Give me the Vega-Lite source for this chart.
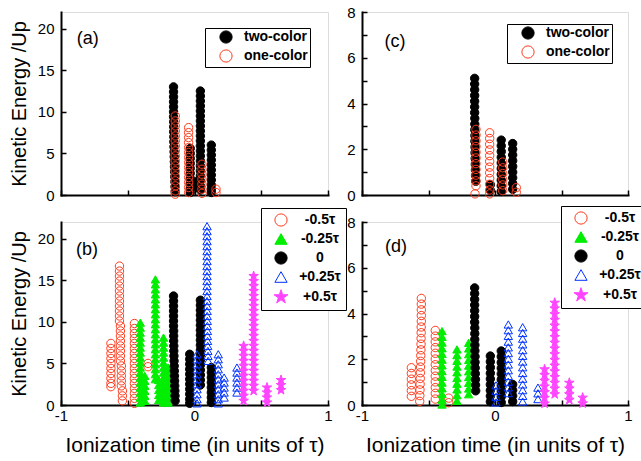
{
"$schema":"https://vega.github.io/schema/vega-lite/v6.json",
"padding":{"left":8,"top":4,"right":0,"bottom":0},
"background":"white",
"datasets":{
"a":[
{"s":"two-color","x":-0.157,"y":13},{"s":"two-color","x":-0.157,"y":12.4},{"s":"two-color","x":-0.157,"y":11.8},{"s":"two-color","x":-0.157,"y":11.2},{"s":"two-color","x":-0.157,"y":10.6},{"s":"two-color","x":-0.157,"y":10},{"s":"two-color","x":-0.157,"y":9.4},{"s":"two-color","x":-0.156,"y":8.8},{"s":"two-color","x":-0.156,"y":8.2},{"s":"two-color","x":-0.156,"y":7.6},{"s":"two-color","x":-0.155,"y":7},{"s":"two-color","x":-0.155,"y":6.4},{"s":"two-color","x":-0.154,"y":5.8},{"s":"two-color","x":-0.153,"y":5.2},{"s":"two-color","x":-0.152,"y":4.6},{"s":"two-color","x":-0.151,"y":4},{"s":"two-color","x":-0.15,"y":3.4},{"s":"two-color","x":-0.149,"y":2.8},{"s":"two-color","x":-0.148,"y":2.2},{"s":"two-color","x":-0.147,"y":1.6},{"s":"two-color","x":-0.146,"y":1},{"s":"two-color","x":-0.145,"y":0.4},
{"s":"two-color","x":0.044,"y":12.5},{"s":"two-color","x":0.044,"y":11.9},{"s":"two-color","x":0.044,"y":11.3},{"s":"two-color","x":0.044,"y":10.7},{"s":"two-color","x":0.044,"y":10.1},{"s":"two-color","x":0.044,"y":9.5},{"s":"two-color","x":0.044,"y":8.9},{"s":"two-color","x":0.044,"y":8.3},{"s":"two-color","x":0.044,"y":7.7},{"s":"two-color","x":0.044,"y":7.1},{"s":"two-color","x":0.044,"y":6.5},{"s":"two-color","x":0.044,"y":5.9},{"s":"two-color","x":0.044,"y":5.3},{"s":"two-color","x":0.044,"y":4.7},{"s":"two-color","x":0.044,"y":4.1},{"s":"two-color","x":0.044,"y":3.5},{"s":"two-color","x":0.044,"y":2.9},{"s":"two-color","x":0.044,"y":2.3},{"s":"two-color","x":0.044,"y":1.7},{"s":"two-color","x":0.044,"y":1.1},{"s":"two-color","x":0.044,"y":0.6},
{"s":"two-color","x":0.126,"y":6},{"s":"two-color","x":0.126,"y":5.4},{"s":"two-color","x":0.126,"y":4.8},{"s":"two-color","x":0.126,"y":4.2},{"s":"two-color","x":0.126,"y":3.6},{"s":"two-color","x":0.126,"y":3},{"s":"two-color","x":0.126,"y":2.4},{"s":"two-color","x":0.126,"y":1.8},{"s":"two-color","x":0.126,"y":1.2},{"s":"two-color","x":0.126,"y":0.7},{"s":"two-color","x":0.126,"y":0.3},
{"s":"two-color","x":-0.032,"y":5.6},{"s":"two-color","x":-0.032,"y":5},{"s":"two-color","x":-0.032,"y":4.4},{"s":"two-color","x":-0.032,"y":3.8},{"s":"two-color","x":-0.032,"y":3.2},{"s":"two-color","x":-0.032,"y":2.6},{"s":"two-color","x":-0.032,"y":2},{"s":"two-color","x":-0.032,"y":1.4},{"s":"two-color","x":-0.032,"y":0.8},{"s":"two-color","x":-0.032,"y":0.3},
{"s":"two-color","x":0.015,"y":1.6},{"s":"two-color","x":0.015,"y":1},
{"s":"one-color","x":-0.144,"y":9.5},{"s":"one-color","x":-0.144,"y":8.9},{"s":"one-color","x":-0.144,"y":8.3},{"s":"one-color","x":-0.144,"y":7.7},{"s":"one-color","x":-0.144,"y":7.1},{"s":"one-color","x":-0.144,"y":6.5},{"s":"one-color","x":-0.144,"y":5.9},{"s":"one-color","x":-0.144,"y":5.3},{"s":"one-color","x":-0.144,"y":4.7},{"s":"one-color","x":-0.144,"y":4.1},{"s":"one-color","x":-0.144,"y":3.5},{"s":"one-color","x":-0.144,"y":2.9},{"s":"one-color","x":-0.144,"y":2.3},{"s":"one-color","x":-0.144,"y":1.7},{"s":"one-color","x":-0.144,"y":1.1},{"s":"one-color","x":-0.144,"y":0.5},{"s":"one-color","x":-0.144,"y":0.1},
{"s":"one-color","x":-0.044,"y":8.1},{"s":"one-color","x":-0.044,"y":7.5},{"s":"one-color","x":-0.044,"y":6.9},{"s":"one-color","x":-0.044,"y":6.3},{"s":"one-color","x":-0.044,"y":5.7},{"s":"one-color","x":-0.044,"y":5.1},{"s":"one-color","x":-0.044,"y":4.5},{"s":"one-color","x":-0.044,"y":3.9},{"s":"one-color","x":-0.044,"y":3.3},{"s":"one-color","x":-0.044,"y":2.7},{"s":"one-color","x":-0.044,"y":2.1},{"s":"one-color","x":-0.044,"y":1.5},{"s":"one-color","x":-0.044,"y":0.9},{"s":"one-color","x":-0.044,"y":0.3},
{"s":"one-color","x":0.056,"y":3.7},{"s":"one-color","x":0.056,"y":3.1},{"s":"one-color","x":0.056,"y":2.5},{"s":"one-color","x":0.056,"y":1.9},{"s":"one-color","x":0.056,"y":1.3},{"s":"one-color","x":0.056,"y":0.7},{"s":"one-color","x":0.056,"y":0.2},
{"s":"one-color","x":0.161,"y":0.7},{"s":"one-color","x":0.161,"y":0.3}
],
"c":[
{"s":"two-color","x":-0.153,"y":5.1},{"s":"two-color","x":-0.153,"y":4.85},{"s":"two-color","x":-0.153,"y":4.6},{"s":"two-color","x":-0.153,"y":4.35},{"s":"two-color","x":-0.153,"y":4.1},{"s":"two-color","x":-0.153,"y":3.85},{"s":"two-color","x":-0.153,"y":3.6},{"s":"two-color","x":-0.152,"y":3.35},{"s":"two-color","x":-0.152,"y":3.1},{"s":"two-color","x":-0.152,"y":2.85},{"s":"two-color","x":-0.151,"y":2.6},{"s":"two-color","x":-0.151,"y":2.35},{"s":"two-color","x":-0.15,"y":2.1},{"s":"two-color","x":-0.15,"y":1.85},{"s":"two-color","x":-0.149,"y":1.6},{"s":"two-color","x":-0.148,"y":1.35},{"s":"two-color","x":-0.147,"y":1.1},{"s":"two-color","x":-0.146,"y":0.85},{"s":"two-color","x":-0.145,"y":0.6},
{"s":"two-color","x":0.047,"y":2.4},{"s":"two-color","x":0.047,"y":2.15},{"s":"two-color","x":0.047,"y":1.9},{"s":"two-color","x":0.047,"y":1.65},{"s":"two-color","x":0.047,"y":1.4},{"s":"two-color","x":0.047,"y":1.15},{"s":"two-color","x":0.047,"y":0.9},{"s":"two-color","x":0.047,"y":0.65},{"s":"two-color","x":0.047,"y":0.4},{"s":"two-color","x":0.047,"y":0.15},
{"s":"two-color","x":0.133,"y":2.25},{"s":"two-color","x":0.133,"y":2},{"s":"two-color","x":0.133,"y":1.75},{"s":"two-color","x":0.133,"y":1.5},{"s":"two-color","x":0.133,"y":1.25},{"s":"two-color","x":0.133,"y":1},{"s":"two-color","x":0.133,"y":0.75},{"s":"two-color","x":0.133,"y":0.5},{"s":"two-color","x":0.133,"y":0.25},
{"s":"two-color","x":-0.035,"y":0.45},{"s":"two-color","x":-0.035,"y":0.2},
{"s":"one-color","x":-0.143,"y":2.87},{"s":"one-color","x":-0.143,"y":2.62},{"s":"one-color","x":-0.143,"y":2.37},{"s":"one-color","x":-0.143,"y":2.12},{"s":"one-color","x":-0.143,"y":1.87},{"s":"one-color","x":-0.143,"y":1.62},{"s":"one-color","x":-0.143,"y":1.37},{"s":"one-color","x":-0.143,"y":1.12},{"s":"one-color","x":-0.143,"y":0.87},{"s":"one-color","x":-0.143,"y":0.62},{"s":"one-color","x":-0.143,"y":0.4},{"s":"one-color","x":-0.15,"y":0.05},
{"s":"one-color","x":-0.04,"y":2.72},{"s":"one-color","x":-0.04,"y":2.47},{"s":"one-color","x":-0.04,"y":2.22},{"s":"one-color","x":-0.04,"y":1.97},{"s":"one-color","x":-0.04,"y":1.72},{"s":"one-color","x":-0.04,"y":1.47},{"s":"one-color","x":-0.04,"y":1.22},{"s":"one-color","x":-0.04,"y":0.97},{"s":"one-color","x":-0.04,"y":0.72},{"s":"one-color","x":-0.04,"y":0.47},{"s":"one-color","x":-0.04,"y":0.22},{"s":"one-color","x":-0.04,"y":0.05},
{"s":"one-color","x":0.058,"y":1.44},{"s":"one-color","x":0.058,"y":1.19},{"s":"one-color","x":0.058,"y":0.94},{"s":"one-color","x":0.058,"y":0.69},{"s":"one-color","x":0.058,"y":0.44},{"s":"one-color","x":0.058,"y":0.19},
{"s":"one-color","x":0.16,"y":0.32},{"s":"one-color","x":0.16,"y":0.12}
],
"b":[
{"s":"-0.5τ","x":-0.626,"y":7.4},{"s":"-0.5τ","x":-0.626,"y":6.8},{"s":"-0.5τ","x":-0.626,"y":6.2},{"s":"-0.5τ","x":-0.626,"y":5.6},{"s":"-0.5τ","x":-0.626,"y":5},{"s":"-0.5τ","x":-0.626,"y":4.4},{"s":"-0.5τ","x":-0.626,"y":3.8},{"s":"-0.5τ","x":-0.626,"y":3.2},{"s":"-0.5τ","x":-0.626,"y":2.6},{"s":"-0.5τ","x":-0.626,"y":2.2},
{"s":"-0.5τ","x":-0.562,"y":16.7},{"s":"-0.5τ","x":-0.562,"y":16.1},{"s":"-0.5τ","x":-0.562,"y":15.5},{"s":"-0.5τ","x":-0.562,"y":14.9},{"s":"-0.5τ","x":-0.562,"y":14.3},{"s":"-0.5τ","x":-0.562,"y":13.7},{"s":"-0.5τ","x":-0.562,"y":13.1},{"s":"-0.5τ","x":-0.562,"y":12.5},{"s":"-0.5τ","x":-0.562,"y":11.9},{"s":"-0.5τ","x":-0.562,"y":11.3},{"s":"-0.5τ","x":-0.562,"y":10.7},{"s":"-0.5τ","x":-0.562,"y":10.1},
{"s":"-0.5τ","x":-0.555,"y":9.5},{"s":"-0.5τ","x":-0.555,"y":8.9},{"s":"-0.5τ","x":-0.555,"y":8.3},{"s":"-0.5τ","x":-0.555,"y":7.7},{"s":"-0.5τ","x":-0.555,"y":7.1},{"s":"-0.5τ","x":-0.555,"y":6.5},{"s":"-0.5τ","x":-0.555,"y":5.9},{"s":"-0.5τ","x":-0.555,"y":5.3},
{"s":"-0.5τ","x":-0.548,"y":4.7},{"s":"-0.5τ","x":-0.548,"y":4.1},{"s":"-0.5τ","x":-0.548,"y":3.5},{"s":"-0.5τ","x":-0.548,"y":2.9},{"s":"-0.5τ","x":-0.548,"y":2.3},
{"s":"-0.5τ","x":-0.54,"y":1.7},{"s":"-0.5τ","x":-0.54,"y":1.1},{"s":"-0.5τ","x":-0.54,"y":0.5},
{"s":"-0.5τ","x":-0.45,"y":9.8},{"s":"-0.5τ","x":-0.45,"y":9.2},{"s":"-0.5τ","x":-0.45,"y":8.6},{"s":"-0.5τ","x":-0.45,"y":8},{"s":"-0.5τ","x":-0.45,"y":7.4},{"s":"-0.5τ","x":-0.45,"y":6.8},{"s":"-0.5τ","x":-0.45,"y":6.2},{"s":"-0.5τ","x":-0.45,"y":5.6},{"s":"-0.5τ","x":-0.45,"y":5},{"s":"-0.5τ","x":-0.45,"y":4.4},{"s":"-0.5τ","x":-0.45,"y":3.8},{"s":"-0.5τ","x":-0.45,"y":3.2},{"s":"-0.5τ","x":-0.45,"y":2.6},{"s":"-0.5τ","x":-0.45,"y":2},{"s":"-0.5τ","x":-0.45,"y":1.4},{"s":"-0.5τ","x":-0.45,"y":0.8},{"s":"-0.5τ","x":-0.45,"y":0.2},
{"s":"-0.5τ","x":-0.348,"y":5},{"s":"-0.5τ","x":-0.348,"y":4.6},
{"s":"-0.25τ","x":-0.406,"y":9.9},{"s":"-0.25τ","x":-0.406,"y":9.3},{"s":"-0.25τ","x":-0.406,"y":8.7},{"s":"-0.25τ","x":-0.406,"y":8.1},{"s":"-0.25τ","x":-0.406,"y":7.5},{"s":"-0.25τ","x":-0.406,"y":6.9},{"s":"-0.25τ","x":-0.406,"y":6.3},{"s":"-0.25τ","x":-0.406,"y":5.7},{"s":"-0.25τ","x":-0.406,"y":5.1},{"s":"-0.25τ","x":-0.406,"y":4.5},{"s":"-0.25τ","x":-0.406,"y":3.9},{"s":"-0.25τ","x":-0.406,"y":3.3},{"s":"-0.25τ","x":-0.406,"y":2.7},{"s":"-0.25τ","x":-0.406,"y":2.1},{"s":"-0.25τ","x":-0.406,"y":1.5},{"s":"-0.25τ","x":-0.406,"y":0.9},{"s":"-0.25τ","x":-0.406,"y":0.3},
{"s":"-0.25τ","x":-0.372,"y":3.5},{"s":"-0.25τ","x":-0.372,"y":2.9},{"s":"-0.25τ","x":-0.372,"y":2.3},{"s":"-0.25τ","x":-0.372,"y":1.7},{"s":"-0.25τ","x":-0.372,"y":1.1},{"s":"-0.25τ","x":-0.372,"y":0.5},
{"s":"-0.25τ","x":-0.293,"y":15.1},{"s":"-0.25τ","x":-0.293,"y":14.5},{"s":"-0.25τ","x":-0.293,"y":13.9},{"s":"-0.25τ","x":-0.293,"y":13.3},{"s":"-0.25τ","x":-0.293,"y":12.7},{"s":"-0.25τ","x":-0.293,"y":12.1},{"s":"-0.25τ","x":-0.293,"y":11.5},{"s":"-0.25τ","x":-0.293,"y":10.9},{"s":"-0.25τ","x":-0.293,"y":10.3},{"s":"-0.25τ","x":-0.293,"y":9.7},{"s":"-0.25τ","x":-0.293,"y":9.1},{"s":"-0.25τ","x":-0.293,"y":8.5},{"s":"-0.25τ","x":-0.293,"y":7.9},{"s":"-0.25τ","x":-0.293,"y":7.3},{"s":"-0.25τ","x":-0.293,"y":6.7},{"s":"-0.25τ","x":-0.293,"y":6.1},{"s":"-0.25τ","x":-0.293,"y":5.5},{"s":"-0.25τ","x":-0.293,"y":4.9},{"s":"-0.25τ","x":-0.293,"y":4.3},{"s":"-0.25τ","x":-0.293,"y":3.7},{"s":"-0.25τ","x":-0.293,"y":3.1},
{"s":"-0.25τ","x":-0.268,"y":3},{"s":"-0.25τ","x":-0.268,"y":2.4},{"s":"-0.25τ","x":-0.268,"y":1.8},{"s":"-0.25τ","x":-0.268,"y":1.2},{"s":"-0.25τ","x":-0.268,"y":0.6},
{"s":"-0.25τ","x":-0.232,"y":8.1},{"s":"-0.25τ","x":-0.232,"y":7.5},{"s":"-0.25τ","x":-0.232,"y":6.9},{"s":"-0.25τ","x":-0.232,"y":6.3},{"s":"-0.25τ","x":-0.232,"y":5.7},{"s":"-0.25τ","x":-0.232,"y":5.1},{"s":"-0.25τ","x":-0.232,"y":4.5},{"s":"-0.25τ","x":-0.232,"y":3.9},{"s":"-0.25τ","x":-0.232,"y":3.3},{"s":"-0.25τ","x":-0.232,"y":2.7},{"s":"-0.25τ","x":-0.232,"y":2.1},{"s":"-0.25τ","x":-0.232,"y":1.5},{"s":"-0.25τ","x":-0.232,"y":0.9},{"s":"-0.25τ","x":-0.232,"y":0.3},
{"s":"-0.25τ","x":-0.198,"y":4.5},{"s":"-0.25τ","x":-0.198,"y":3.9},{"s":"-0.25τ","x":-0.198,"y":3.3},{"s":"-0.25τ","x":-0.198,"y":2.7},{"s":"-0.25τ","x":-0.198,"y":2.1},{"s":"-0.25τ","x":-0.198,"y":1.5},{"s":"-0.25τ","x":-0.198,"y":0.9},{"s":"-0.25τ","x":-0.198,"y":0.3},
{"s":"0","x":-0.157,"y":13.1},{"s":"0","x":-0.157,"y":12.5},{"s":"0","x":-0.157,"y":11.9},{"s":"0","x":-0.157,"y":11.3},{"s":"0","x":-0.157,"y":10.7},{"s":"0","x":-0.157,"y":10.1},{"s":"0","x":-0.157,"y":9.5},{"s":"0","x":-0.156,"y":8.9},{"s":"0","x":-0.156,"y":8.3},{"s":"0","x":-0.156,"y":7.7},{"s":"0","x":-0.155,"y":7.1},{"s":"0","x":-0.155,"y":6.5},{"s":"0","x":-0.154,"y":5.9},{"s":"0","x":-0.153,"y":5.3},{"s":"0","x":-0.152,"y":4.7},{"s":"0","x":-0.151,"y":4.1},{"s":"0","x":-0.15,"y":3.5},{"s":"0","x":-0.149,"y":2.9},{"s":"0","x":-0.148,"y":2.3},{"s":"0","x":-0.147,"y":1.7},{"s":"0","x":-0.146,"y":1.1},{"s":"0","x":-0.145,"y":0.5},
{"s":"0","x":-0.036,"y":6.1},{"s":"0","x":-0.036,"y":5.5},{"s":"0","x":-0.036,"y":4.9},{"s":"0","x":-0.036,"y":4.3},{"s":"0","x":-0.036,"y":3.7},{"s":"0","x":-0.036,"y":3.1},{"s":"0","x":-0.036,"y":2.5},{"s":"0","x":-0.036,"y":1.9},{"s":"0","x":-0.036,"y":1.3},{"s":"0","x":-0.036,"y":0.7},{"s":"0","x":-0.036,"y":0.2},
{"s":"0","x":0.044,"y":12.6},{"s":"0","x":0.044,"y":12},{"s":"0","x":0.044,"y":11.4},{"s":"0","x":0.044,"y":10.8},{"s":"0","x":0.044,"y":10.2},{"s":"0","x":0.044,"y":9.6},{"s":"0","x":0.044,"y":9},{"s":"0","x":0.044,"y":8.4},{"s":"0","x":0.044,"y":7.8},{"s":"0","x":0.044,"y":7.2},{"s":"0","x":0.044,"y":6.6},{"s":"0","x":0.044,"y":6},{"s":"0","x":0.044,"y":5.4},{"s":"0","x":0.044,"y":4.8},{"s":"0","x":0.044,"y":4.2},{"s":"0","x":0.044,"y":3.6},{"s":"0","x":0.044,"y":3},{"s":"0","x":0.044,"y":2.4},
{"s":"0","x":0.126,"y":4.5},{"s":"0","x":0.126,"y":3.9},{"s":"0","x":0.126,"y":3.3},{"s":"0","x":0.126,"y":2.7},{"s":"0","x":0.126,"y":2.1},{"s":"0","x":0.126,"y":1.5},{"s":"0","x":0.126,"y":0.9},{"s":"0","x":0.126,"y":0.3},
{"s":"+0.25τ","x":0.019,"y":6.1},{"s":"+0.25τ","x":0.019,"y":5.5},{"s":"+0.25τ","x":0.019,"y":4.9},{"s":"+0.25τ","x":0.019,"y":4.3},{"s":"+0.25τ","x":0.019,"y":3.7},{"s":"+0.25τ","x":0.019,"y":3.1},{"s":"+0.25τ","x":0.019,"y":2.5},{"s":"+0.25τ","x":0.019,"y":1.9},{"s":"+0.25τ","x":0.019,"y":1.3},{"s":"+0.25τ","x":0.019,"y":0.7},{"s":"+0.25τ","x":0.019,"y":0.2},
{"s":"+0.25τ","x":0.094,"y":21.5},{"s":"+0.25τ","x":0.094,"y":20.9},{"s":"+0.25τ","x":0.094,"y":20.3},{"s":"+0.25τ","x":0.094,"y":19.7},{"s":"+0.25τ","x":0.094,"y":19.1},{"s":"+0.25τ","x":0.094,"y":18.5},{"s":"+0.25τ","x":0.094,"y":17.9},{"s":"+0.25τ","x":0.094,"y":17.3},{"s":"+0.25τ","x":0.094,"y":16.7},{"s":"+0.25τ","x":0.094,"y":16.1},{"s":"+0.25τ","x":0.094,"y":15.5},{"s":"+0.25τ","x":0.094,"y":14.9},{"s":"+0.25τ","x":0.094,"y":14.3},{"s":"+0.25τ","x":0.094,"y":13.7},{"s":"+0.25τ","x":0.094,"y":13.1},{"s":"+0.25τ","x":0.094,"y":12.5},{"s":"+0.25τ","x":0.095,"y":11.9},{"s":"+0.25τ","x":0.095,"y":11.3},{"s":"+0.25τ","x":0.095,"y":10.7},{"s":"+0.25τ","x":0.096,"y":10.1},{"s":"+0.25τ","x":0.096,"y":9.5},{"s":"+0.25τ","x":0.097,"y":8.9},{"s":"+0.25τ","x":0.097,"y":8.3},{"s":"+0.25τ","x":0.098,"y":7.7},{"s":"+0.25τ","x":0.099,"y":7.1},{"s":"+0.25τ","x":0.1,"y":6.5},{"s":"+0.25τ","x":0.101,"y":5.9},{"s":"+0.25τ","x":0.102,"y":5.3},
{"s":"+0.25τ","x":0.178,"y":6.1},{"s":"+0.25τ","x":0.178,"y":5.5},{"s":"+0.25τ","x":0.178,"y":4.9},{"s":"+0.25τ","x":0.178,"y":4.3},{"s":"+0.25τ","x":0.178,"y":3.7},{"s":"+0.25τ","x":0.178,"y":3.1},{"s":"+0.25τ","x":0.178,"y":2.5},{"s":"+0.25τ","x":0.178,"y":1.9},{"s":"+0.25τ","x":0.178,"y":1.3},{"s":"+0.25τ","x":0.178,"y":0.7},{"s":"+0.25τ","x":0.178,"y":0.2},
{"s":"+0.25τ","x":0.222,"y":3.3},{"s":"+0.25τ","x":0.222,"y":2.7},{"s":"+0.25τ","x":0.222,"y":2.1},{"s":"+0.25τ","x":0.222,"y":1.5},{"s":"+0.25τ","x":0.222,"y":0.9},
{"s":"+0.25τ","x":0.318,"y":4.5},{"s":"+0.25τ","x":0.318,"y":3.9},{"s":"+0.25τ","x":0.318,"y":3.3},{"s":"+0.25τ","x":0.318,"y":2.7},{"s":"+0.25τ","x":0.318,"y":2.1},{"s":"+0.25τ","x":0.318,"y":1.5},
{"s":"+0.5τ","x":0.368,"y":7.1},{"s":"+0.5τ","x":0.368,"y":6.5},{"s":"+0.5τ","x":0.368,"y":5.9},{"s":"+0.5τ","x":0.368,"y":5.3},{"s":"+0.5τ","x":0.368,"y":4.7},{"s":"+0.5τ","x":0.368,"y":4.1},{"s":"+0.5τ","x":0.368,"y":3.5},{"s":"+0.5τ","x":0.368,"y":2.9},{"s":"+0.5τ","x":0.368,"y":2.3},{"s":"+0.5τ","x":0.368,"y":1.7},{"s":"+0.5τ","x":0.368,"y":1.1},{"s":"+0.5τ","x":0.368,"y":0.5},
{"s":"+0.5τ","x":0.443,"y":15.5},{"s":"+0.5τ","x":0.443,"y":14.9},{"s":"+0.5τ","x":0.443,"y":14.3},{"s":"+0.5τ","x":0.443,"y":13.7},{"s":"+0.5τ","x":0.443,"y":13.1},{"s":"+0.5τ","x":0.443,"y":12.5},{"s":"+0.5τ","x":0.443,"y":11.9},{"s":"+0.5τ","x":0.443,"y":11.3},{"s":"+0.5τ","x":0.443,"y":10.7},{"s":"+0.5τ","x":0.443,"y":10.1},{"s":"+0.5τ","x":0.443,"y":9.5},{"s":"+0.5τ","x":0.443,"y":8.9},{"s":"+0.5τ","x":0.443,"y":8.3},{"s":"+0.5τ","x":0.443,"y":7.7},{"s":"+0.5τ","x":0.443,"y":7.1},{"s":"+0.5τ","x":0.443,"y":6.5},{"s":"+0.5τ","x":0.443,"y":5.9},{"s":"+0.5τ","x":0.443,"y":5.3},{"s":"+0.5τ","x":0.443,"y":4.7},{"s":"+0.5τ","x":0.443,"y":4.1},{"s":"+0.5τ","x":0.443,"y":3.5},{"s":"+0.5τ","x":0.443,"y":2.9},{"s":"+0.5τ","x":0.443,"y":2.3},{"s":"+0.5τ","x":0.443,"y":1.7},
{"s":"+0.5τ","x":0.543,"y":2.1},{"s":"+0.5τ","x":0.543,"y":1.5},{"s":"+0.5τ","x":0.543,"y":0.9},{"s":"+0.5τ","x":0.543,"y":0.3},
{"s":"+0.5τ","x":0.648,"y":3},{"s":"+0.5τ","x":0.648,"y":2.4},{"s":"+0.5τ","x":0.648,"y":1.8}
],
"d":[
{"s":"-0.5τ","x":-0.629,"y":1.63},{"s":"-0.5τ","x":-0.629,"y":1.38},{"s":"-0.5τ","x":-0.629,"y":1.13},{"s":"-0.5τ","x":-0.629,"y":0.88},{"s":"-0.5τ","x":-0.629,"y":0.63},{"s":"-0.5τ","x":-0.629,"y":0.38},
{"s":"-0.5τ","x":-0.554,"y":4.66},{"s":"-0.5τ","x":-0.554,"y":4.41},{"s":"-0.5τ","x":-0.554,"y":4.16},{"s":"-0.5τ","x":-0.554,"y":3.91},{"s":"-0.5τ","x":-0.554,"y":3.66},{"s":"-0.5τ","x":-0.555,"y":3.41},{"s":"-0.5τ","x":-0.555,"y":3.16},{"s":"-0.5τ","x":-0.556,"y":2.91},{"s":"-0.5τ","x":-0.556,"y":2.66},{"s":"-0.5τ","x":-0.557,"y":2.41},{"s":"-0.5τ","x":-0.558,"y":2.16},{"s":"-0.5τ","x":-0.559,"y":1.91},{"s":"-0.5τ","x":-0.56,"y":1.66},{"s":"-0.5τ","x":-0.561,"y":1.41},{"s":"-0.5τ","x":-0.562,"y":1.16},{"s":"-0.5τ","x":-0.563,"y":0.91},{"s":"-0.5τ","x":-0.564,"y":0.66},{"s":"-0.5τ","x":-0.565,"y":0.41},{"s":"-0.5τ","x":-0.566,"y":0.16},
{"s":"-0.5τ","x":-0.449,"y":3.26},{"s":"-0.5τ","x":-0.449,"y":3.01},{"s":"-0.5τ","x":-0.449,"y":2.76},{"s":"-0.5τ","x":-0.449,"y":2.51},{"s":"-0.5τ","x":-0.449,"y":2.26},{"s":"-0.5τ","x":-0.449,"y":2.01},{"s":"-0.5τ","x":-0.449,"y":1.76},{"s":"-0.5τ","x":-0.449,"y":1.51},{"s":"-0.5τ","x":-0.449,"y":1.26},{"s":"-0.5τ","x":-0.449,"y":1.01},{"s":"-0.5τ","x":-0.449,"y":0.76},{"s":"-0.5τ","x":-0.449,"y":0.51},{"s":"-0.5τ","x":-0.449,"y":0.26},
{"s":"-0.5τ","x":-0.348,"y":0.3},{"s":"-0.5τ","x":-0.348,"y":0.1},
{"s":"-0.25τ","x":-0.398,"y":3.23},{"s":"-0.25τ","x":-0.398,"y":2.98},{"s":"-0.25τ","x":-0.398,"y":2.73},{"s":"-0.25τ","x":-0.398,"y":2.48},{"s":"-0.25τ","x":-0.398,"y":2.23},{"s":"-0.25τ","x":-0.398,"y":1.98},{"s":"-0.25τ","x":-0.398,"y":1.73},{"s":"-0.25τ","x":-0.398,"y":1.48},{"s":"-0.25τ","x":-0.398,"y":1.23},{"s":"-0.25τ","x":-0.398,"y":0.98},{"s":"-0.25τ","x":-0.398,"y":0.73},{"s":"-0.25τ","x":-0.398,"y":0.48},{"s":"-0.25τ","x":-0.398,"y":0.23},{"s":"-0.25τ","x":-0.398,"y":0.02},
{"s":"-0.25τ","x":-0.286,"y":2.43},{"s":"-0.25τ","x":-0.286,"y":2.18},{"s":"-0.25τ","x":-0.286,"y":1.93},{"s":"-0.25τ","x":-0.286,"y":1.68},{"s":"-0.25τ","x":-0.286,"y":1.43},{"s":"-0.25τ","x":-0.286,"y":1.18},{"s":"-0.25τ","x":-0.286,"y":0.93},{"s":"-0.25τ","x":-0.286,"y":0.68},{"s":"-0.25τ","x":-0.286,"y":0.43},{"s":"-0.25τ","x":-0.286,"y":0.18},
{"s":"-0.25τ","x":-0.198,"y":2.72},{"s":"-0.25τ","x":-0.198,"y":2.47},{"s":"-0.25τ","x":-0.198,"y":2.22},{"s":"-0.25τ","x":-0.198,"y":1.97},{"s":"-0.25τ","x":-0.198,"y":1.72},{"s":"-0.25τ","x":-0.198,"y":1.47},{"s":"-0.25τ","x":-0.198,"y":1.22},{"s":"-0.25τ","x":-0.198,"y":0.97},{"s":"-0.25τ","x":-0.198,"y":0.72},{"s":"-0.25τ","x":-0.198,"y":0.47},
{"s":"0","x":-0.153,"y":5.12},{"s":"0","x":-0.153,"y":4.87},{"s":"0","x":-0.153,"y":4.62},{"s":"0","x":-0.153,"y":4.37},{"s":"0","x":-0.153,"y":4.12},{"s":"0","x":-0.153,"y":3.87},{"s":"0","x":-0.153,"y":3.62},{"s":"0","x":-0.152,"y":3.37},{"s":"0","x":-0.152,"y":3.12},{"s":"0","x":-0.152,"y":2.87},{"s":"0","x":-0.151,"y":2.62},{"s":"0","x":-0.151,"y":2.37},{"s":"0","x":-0.15,"y":2.12},{"s":"0","x":-0.15,"y":1.87},{"s":"0","x":-0.149,"y":1.62},{"s":"0","x":-0.148,"y":1.37},{"s":"0","x":-0.147,"y":1.12},{"s":"0","x":-0.146,"y":0.87},{"s":"0","x":-0.145,"y":0.62},
{"s":"0","x":-0.035,"y":2.14},{"s":"0","x":-0.035,"y":1.89},{"s":"0","x":-0.035,"y":1.64},{"s":"0","x":-0.035,"y":1.39},{"s":"0","x":-0.035,"y":1.14},{"s":"0","x":-0.035,"y":0.89},{"s":"0","x":-0.035,"y":0.64},{"s":"0","x":-0.035,"y":0.39},{"s":"0","x":-0.035,"y":0.14},
{"s":"0","x":0.047,"y":2.36},{"s":"0","x":0.047,"y":2.11},{"s":"0","x":0.047,"y":1.86},{"s":"0","x":0.047,"y":1.61},{"s":"0","x":0.047,"y":1.36},{"s":"0","x":0.047,"y":1.11},{"s":"0","x":0.047,"y":0.86},{"s":"0","x":0.047,"y":0.61},{"s":"0","x":0.047,"y":0.36},{"s":"0","x":0.047,"y":0.11},
{"s":"0","x":0.133,"y":0.9},{"s":"0","x":0.133,"y":0.65},{"s":"0","x":0.133,"y":0.4},{"s":"0","x":0.133,"y":0.15},
{"s":"+0.25τ","x":0.008,"y":0.86},{"s":"+0.25τ","x":0.008,"y":0.61},{"s":"+0.25τ","x":0.008,"y":0.36},{"s":"+0.25τ","x":0.008,"y":0.11},
{"s":"+0.25τ","x":0.1,"y":3.52},{"s":"+0.25τ","x":0.1,"y":3.27},{"s":"+0.25τ","x":0.1,"y":3.02},{"s":"+0.25τ","x":0.1,"y":2.77},{"s":"+0.25τ","x":0.1,"y":2.52},{"s":"+0.25τ","x":0.1,"y":2.27},{"s":"+0.25τ","x":0.1,"y":2.02},{"s":"+0.25τ","x":0.1,"y":1.77},{"s":"+0.25τ","x":0.1,"y":1.52},{"s":"+0.25τ","x":0.1,"y":1.27},{"s":"+0.25τ","x":0.1,"y":1.02},{"s":"+0.25τ","x":0.1,"y":0.77},{"s":"+0.25τ","x":0.1,"y":0.52},
{"s":"+0.25τ","x":0.208,"y":3.4},{"s":"+0.25τ","x":0.208,"y":3.15},{"s":"+0.25τ","x":0.208,"y":2.9},{"s":"+0.25τ","x":0.208,"y":2.65},{"s":"+0.25τ","x":0.208,"y":2.4},{"s":"+0.25τ","x":0.208,"y":2.15},{"s":"+0.25τ","x":0.208,"y":1.9},{"s":"+0.25τ","x":0.208,"y":1.65},{"s":"+0.25τ","x":0.208,"y":1.4},{"s":"+0.25τ","x":0.208,"y":1.15},{"s":"+0.25τ","x":0.208,"y":0.9},{"s":"+0.25τ","x":0.208,"y":0.65},{"s":"+0.25τ","x":0.208,"y":0.4},{"s":"+0.25τ","x":0.208,"y":0.15},
{"s":"+0.25τ","x":0.323,"y":0.76},{"s":"+0.25τ","x":0.323,"y":0.51},{"s":"+0.25τ","x":0.323,"y":0.26},
{"s":"+0.5τ","x":0.373,"y":1.56},{"s":"+0.5τ","x":0.373,"y":1.31},{"s":"+0.5τ","x":0.373,"y":1.06},{"s":"+0.5τ","x":0.373,"y":0.81},{"s":"+0.5τ","x":0.373,"y":0.56},{"s":"+0.5τ","x":0.373,"y":0.31},{"s":"+0.5τ","x":0.373,"y":0.06},
{"s":"+0.5τ","x":0.449,"y":4.47},{"s":"+0.5τ","x":0.449,"y":4.22},{"s":"+0.5τ","x":0.449,"y":3.97},{"s":"+0.5τ","x":0.449,"y":3.72},{"s":"+0.5τ","x":0.449,"y":3.47},{"s":"+0.5τ","x":0.449,"y":3.22},{"s":"+0.5τ","x":0.449,"y":2.97},{"s":"+0.5τ","x":0.449,"y":2.72},{"s":"+0.5τ","x":0.449,"y":2.47},{"s":"+0.5τ","x":0.449,"y":2.22},{"s":"+0.5τ","x":0.449,"y":1.97},{"s":"+0.5τ","x":0.449,"y":1.72},{"s":"+0.5τ","x":0.449,"y":1.47},{"s":"+0.5τ","x":0.449,"y":1.22},{"s":"+0.5τ","x":0.449,"y":0.97},{"s":"+0.5τ","x":0.449,"y":0.72},{"s":"+0.5τ","x":0.449,"y":0.47},
{"s":"+0.5τ","x":0.559,"y":0.97},{"s":"+0.5τ","x":0.559,"y":0.72},{"s":"+0.5τ","x":0.559,"y":0.47},{"s":"+0.5τ","x":0.559,"y":0.22},
{"s":"+0.5τ","x":0.659,"y":0.32},{"s":"+0.5τ","x":0.659,"y":0.07}
]
},
"columns":2,
"spacing":{"row":27,"column":34},
"bounds":"flush",
"concat":[
{"width":267,"height":183,
 "layer":[
  {"data":{"name":"a"},
   "mark":{"type":"point","size":70,"strokeWidth":1,"opacity":1},
   "encoding":{
    "x":{"field":"x","type":"quantitative","scale":{"domain":[-1,1],"nice":false,"zero":false},"axis":{"orient":"bottom","values":[-1,-0.5,0,0.5,1],"labels":false,"title":null}},
    "y":{"field":"y","type":"quantitative","scale":{"domain":[0,22],"nice":false},"axis":{"orient":"left","values":[0,5,10,15,20],"title":"Kinetic Energy /Up"}},
    "fill":{"field":"s","type":"nominal","scale":{"domain":["two-color","one-color"],"range":["black","transparent"]},"legend":{"orient":"none","legendX":144,"legendY":16,"title":null,"padding":2,"symbolOffset":12,"rowPadding":1}},
    "stroke":{"field":"s","type":"nominal","scale":{"domain":["two-color","one-color"],"range":["black","#ff3c1e"]},"legend":{"orient":"none","legendX":144,"legendY":16,"title":null,"padding":2,"symbolOffset":12,"rowPadding":1}},
    "shape":{"field":"s","type":"nominal","scale":{"domain":["two-color","one-color"],"range":["circle","circle"]},"legend":{"orient":"none","legendX":144,"legendY":16,"title":null,"padding":2,"symbolOffset":12,"rowPadding":1}}
   }},
  {"data":{"values":[{}]},
   "mark":{"type":"text","text":"(a)","fontSize":18,"font":"Liberation Sans","align":"center","baseline":"middle","color":"black"},
   "encoding":{"x":{"datum":-0.8,"type":"quantitative","axis":null},"y":{"datum":18.7,"type":"quantitative","axis":null}}}
 ],
 "resolve":{"axis":{"x":"independent","y":"independent"}}
},
{"width":266,"height":183,
 "layer":[
  {"data":{"name":"c"},
   "mark":{"type":"point","size":70,"strokeWidth":1,"opacity":1},
   "encoding":{
    "x":{"field":"x","type":"quantitative","scale":{"domain":[-1,1],"nice":false,"zero":false},"axis":{"orient":"bottom","values":[-1,-0.5,0,0.5,1],"labels":false,"title":null}},
    "y":{"field":"y","type":"quantitative","scale":{"domain":[0,8],"nice":false},"axis":{"orient":"left","values":[0,1,2,3,4,5,6,7,8],"labelExpr":"datum.value % 2 == 0 ? datum.label : ''","title":null}},
    "fill":{"field":"s","type":"nominal","scale":{"domain":["two-color","one-color"],"range":["black","transparent"]},"legend":{"orient":"none","legendX":145,"legendY":12,"title":null,"padding":2,"symbolOffset":12,"rowPadding":1}},
    "stroke":{"field":"s","type":"nominal","scale":{"domain":["two-color","one-color"],"range":["black","#ff3c1e"]},"legend":{"orient":"none","legendX":145,"legendY":12,"title":null,"padding":2,"symbolOffset":12,"rowPadding":1}},
    "shape":{"field":"s","type":"nominal","scale":{"domain":["two-color","one-color"],"range":["circle","circle"]},"legend":{"orient":"none","legendX":145,"legendY":12,"title":null,"padding":2,"symbolOffset":12,"rowPadding":1}}
   }},
  {"data":{"values":[{}]},
   "mark":{"type":"text","text":"(c)","fontSize":18,"font":"Liberation Sans","align":"center","baseline":"middle","color":"black"},
   "encoding":{"x":{"datum":-0.752,"type":"quantitative","axis":null},"y":{"datum":6.67,"type":"quantitative","axis":null}}}
 ],
 "resolve":{"axis":{"x":"independent","y":"independent"}}
},
{"width":267,"height":183,
 "layer":[
  {"data":{"name":"b"},
   "mark":{"type":"point","size":70,"strokeWidth":1,"opacity":1},
   "encoding":{
    "x":{"field":"x","type":"quantitative","scale":{"domain":[-1,1],"nice":false,"zero":false},"axis":{"orient":"bottom","values":[-1,-0.5,0,0.5,1],"labelPadding":8,"titlePadding":11,"titleFontSize":21,"labelExpr":"datum.value == -1 ? '-1' : datum.value == 0 ? '0' : datum.value == 1 ? '1' : ''","title":"Ionization time (in units of τ)"}},
    "y":{"field":"y","type":"quantitative","scale":{"domain":[0,22],"nice":false},"axis":{"orient":"left","values":[0,5,10,15,20],"title":"Kinetic Energy /Up"}},
    "fill":{"field":"s","type":"nominal","scale":{"domain":["-0.5τ","-0.25τ","0","+0.25τ","+0.5τ"],"range":["transparent","#00ee00","black","transparent","#ff44ff"]},"legend":{"orient":"none","legendX":200,"legendY":-14,"title":null,"padding":5,"symbolOffset":8,"rowPadding":2,"labelAlign":"center","labelOffset":32}},
    "stroke":{"field":"s","type":"nominal","scale":{"domain":["-0.5τ","-0.25τ","0","+0.25τ","+0.5τ"],"range":["#ff3c1e","#00ee00","black","#0033ff","#ff44ff"]},"legend":{"orient":"none","legendX":200,"legendY":-14,"title":null,"padding":5,"symbolOffset":8,"rowPadding":2,"labelAlign":"center","labelOffset":32}},
    "shape":{"field":"s","type":"nominal","scale":{"domain":["-0.5τ","-0.25τ","0","+0.25τ","+0.5τ"],"range":["circle","triangle-up","circle","triangle-up","M0,-1.2L0.268,-0.368L1.141,-0.371L0.433,0.14L0.706,0.971L0,0.456L-0.706,0.971L-0.433,0.14L-1.141,-0.371L-0.268,-0.368Z"]},"legend":{"orient":"none","legendX":200,"legendY":-14,"title":null,"padding":5,"symbolOffset":8,"rowPadding":2,"labelAlign":"center","labelOffset":32}}
   }},
  {"data":{"values":[{}]},
   "mark":{"type":"text","text":"(b)","fontSize":18,"font":"Liberation Sans","align":"center","baseline":"middle","color":"black"},
   "encoding":{"x":{"datum":-0.805,"type":"quantitative","axis":null},"y":{"datum":18.6,"type":"quantitative","axis":null}}}
 ],
 "resolve":{"axis":{"x":"independent","y":"independent"}}
},
{"width":266,"height":183,
 "layer":[
  {"data":{"name":"d"},
   "mark":{"type":"point","size":70,"strokeWidth":1,"opacity":1},
   "encoding":{
    "x":{"field":"x","type":"quantitative","scale":{"domain":[-1,1],"nice":false,"zero":false},"axis":{"orient":"bottom","values":[-1,-0.5,0,0.5,1],"labelPadding":8,"titlePadding":11,"titleFontSize":21,"labelExpr":"datum.value == -1 ? '-1' : datum.value == 0 ? '0' : datum.value == 1 ? '1' : ''","title":"Ionization time (in units of τ)"}},
    "y":{"field":"y","type":"quantitative","scale":{"domain":[0,8],"nice":false},"axis":{"orient":"left","values":[0,1,2,3,4,5,6,7,8],"labelExpr":"datum.value % 2 == 0 ? datum.label : ''","title":null}},
    "fill":{"field":"s","type":"nominal","scale":{"domain":["-0.5τ","-0.25τ","0","+0.25τ","+0.5τ"],"range":["transparent","#00ee00","black","transparent","#ff44ff"]},"legend":{"orient":"none","legendX":199,"legendY":-16,"title":null,"padding":5,"symbolOffset":8,"rowPadding":2,"labelAlign":"center","labelOffset":32}},
    "stroke":{"field":"s","type":"nominal","scale":{"domain":["-0.5τ","-0.25τ","0","+0.25τ","+0.5τ"],"range":["#ff3c1e","#00ee00","black","#0033ff","#ff44ff"]},"legend":{"orient":"none","legendX":199,"legendY":-16,"title":null,"padding":5,"symbolOffset":8,"rowPadding":2,"labelAlign":"center","labelOffset":32}},
    "shape":{"field":"s","type":"nominal","scale":{"domain":["-0.5τ","-0.25τ","0","+0.25τ","+0.5τ"],"range":["circle","triangle-up","circle","triangle-up","M0,-1.2L0.268,-0.368L1.141,-0.371L0.433,0.14L0.706,0.971L0,0.456L-0.706,0.971L-0.433,0.14L-1.141,-0.371L-0.268,-0.368Z"]},"legend":{"orient":"none","legendX":199,"legendY":-16,"title":null,"padding":5,"symbolOffset":8,"rowPadding":2,"labelAlign":"center","labelOffset":32}}
   }},
  {"data":{"values":[{}]},
   "mark":{"type":"text","text":"(d)","fontSize":18,"font":"Liberation Sans","align":"center","baseline":"middle","color":"black"},
   "encoding":{"x":{"datum":-0.744,"type":"quantitative","axis":null},"y":{"datum":6.89,"type":"quantitative","axis":null}}}
 ],
 "resolve":{"axis":{"x":"independent","y":"independent"}}
}
],
"resolve":{"scale":{"x":"independent","y":"independent","fill":"independent","stroke":"independent","shape":"independent"},"legend":{"fill":"independent","stroke":"independent","shape":"independent"},"axis":{"x":"independent","y":"independent"}},
"config":{
 "font":"Liberation Sans",
 "axis":{"grid":false,"domain":true,"domainColor":"black","domainWidth":2,"domainCap":"square","ticks":true,"tickColor":"black","tickWidth":1.5,"tickSize":-5,"labelFont":"Liberation Sans","labelFontSize":15,"labelColor":"black","labelPadding":12,"labelFlush":false,"labelOverlap":false,"titleFont":"Liberation Sans","titleFontSize":20,"titleFontWeight":"normal","titleColor":"black","titlePadding":8},
 "legend":{"strokeColor":"black","fillColor":"white","labelFont":"Liberation Sans","labelFontSize":14,"labelFontWeight":"bold","labelColor":"black","symbolSize":150,"symbolStrokeWidth":1,"labelOffset":11,"labelLimit":200}
}
}
